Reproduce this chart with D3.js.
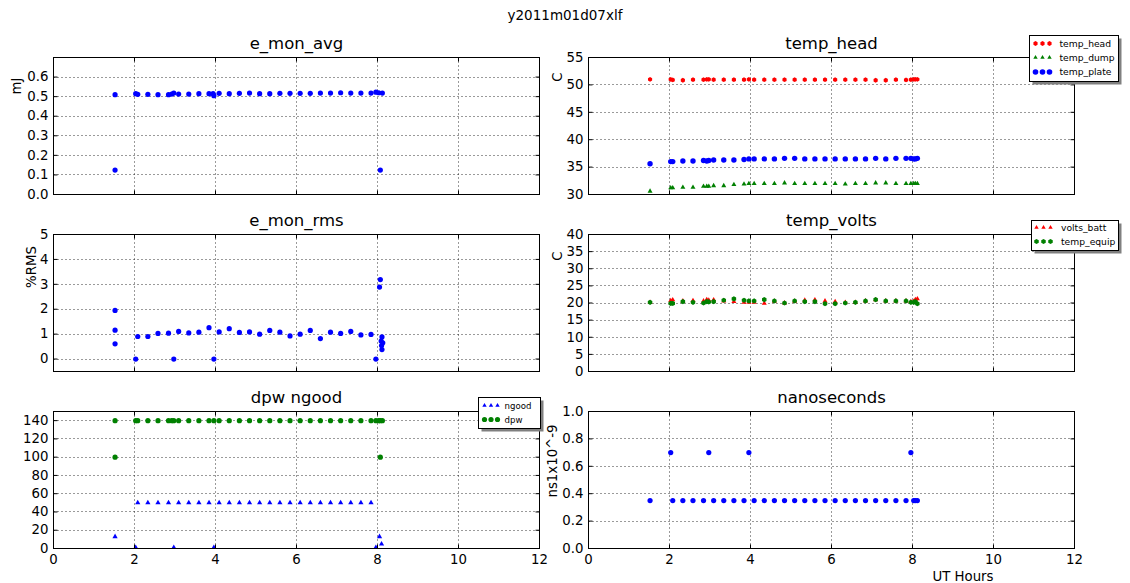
<!DOCTYPE html>
<html>
<head>
<meta charset="utf-8">
<script src="https://cdn.jsdelivr.net/npm/d3@7"></script>
<style>
  body { margin: 0; background: #fff; }
  svg { display: block; font-family: "DejaVu Sans", sans-serif; }
</style>
</head>
<body>
<svg id="chart" width="1130" height="583"></svg>
<script>
// ---------------- data ----------------
const runName = "y2011m01d07xlf";
const hourTicks = [0, 2, 4, 6, 8, 10, 12];

// scan times (UT hours) shared by the temperature, dpw and timing readings
const scanHours = [1.52, 2.03, 2.08, 2.33, 2.58, 2.84, 2.92, 2.97, 3.09, 3.34, 3.59, 3.84, 3.96,
  4.09, 4.34, 4.59, 4.84, 5.09, 5.34, 5.59, 5.84, 6.09, 6.34, 6.59, 6.84, 7.09, 7.34, 7.59, 7.84,
  7.96, 8.03, 8.07, 8.12];

// e_mon_avg (mJ)
const avgHours = [1.52, 1.52, 2.03, 2.08, 2.33, 2.58, 2.84, 2.92, 2.97, 3.09, 3.34, 3.59, 3.84, 3.94, 3.96,
  4.09, 4.34, 4.59, 4.84, 5.09, 5.34, 5.59, 5.84, 6.09, 6.34, 6.59, 6.84, 7.09, 7.34, 7.59, 7.84,
  7.96, 8.03, 8.07, 8.12];
const avgValues = [0.510, 0.125, 0.515, 0.512, 0.512, 0.510, 0.510, 0.513, 0.518, 0.513, 0.513, 0.515, 0.515, 0.515, 0.505,
  0.517, 0.515, 0.517, 0.518, 0.515, 0.515, 0.517, 0.517, 0.517, 0.517, 0.518, 0.518, 0.520, 0.518, 0.518, 0.518,
  0.523, 0.520, 0.125, 0.518];
const avgTicks = [0.0, 0.1, 0.2, 0.3, 0.4, 0.5, 0.6];

// e_mon_rms (%RMS)
const rmsHours = [1.52, 1.52, 1.52, 2.03, 2.08, 2.33, 2.58, 2.84, 2.97, 3.09, 3.34, 3.59, 3.84, 3.96,
  4.09, 4.34, 4.59, 4.84, 5.09, 5.34, 5.59, 5.84, 6.09, 6.34, 6.59, 6.84, 7.09, 7.34, 7.59, 7.84,
  7.96, 8.07, 8.05, 8.11, 8.09, 8.13, 8.10, 8.11];
const rmsValues = [1.95, 1.16, 0.61, 0.0, 0.905, 0.905, 1.03, 1.04, 0.0, 1.11, 1.05, 1.08, 1.26, 0.0,
  1.09, 1.22, 1.07, 1.09, 1.00, 1.15, 1.08, 0.93, 1.00, 1.15, 0.82, 1.08, 1.03, 1.11, 0.97, 0.99,
  0.0, 3.19, 2.89, 0.89, 0.72, 0.65, 0.54, 0.38];
const rmsTicks = [0, 1, 2, 3, 4, 5];

// temperatures (C), on scanHours
const tempHead = [51.0, 51.0, 50.9, 50.85, 50.95, 50.95, 51.0, 51.0, 50.95, 50.95, 50.95, 50.95, 51.0,
  50.95, 50.95, 50.95, 50.95, 50.95, 50.95, 50.95, 50.95, 50.95, 50.95, 50.95, 50.95, 50.85, 50.85, 50.95, 50.9,
  50.95, 51.0, 51.0, 51.0];
const tempDump = [30.6, 31.2, 31.2, 31.3, 31.3, 31.5, 31.5, 31.5, 31.6, 31.6, 31.8, 31.9, 32.0,
  32.0, 32.0, 32.0, 32.1, 32.0, 32.0, 32.0, 32.0, 32.0, 31.9, 32.0, 32.0, 32.1, 32.1, 32.0, 32.0,
  32.0, 32.0, 32.0, 32.0];
const tempPlate = [35.6, 36.0, 36.0, 36.1, 36.1, 36.2, 36.1, 36.2, 36.3, 36.3, 36.3, 36.4, 36.5,
  36.5, 36.5, 36.5, 36.6, 36.6, 36.5, 36.5, 36.5, 36.5, 36.5, 36.5, 36.5, 36.6, 36.5, 36.6, 36.6,
  36.6, 36.5, 36.5, 36.6];
const headTicks = [30, 35, 40, 45, 50, 55];

// battery volts and equipment temperature, on scanHours
const voltsBatt = [20.2, 20.7, 20.9, 20.6, 20.7, 20.6, 21.0, 20.8, 20.9, 20.6, 20.4, 20.2, 20.2,
  20.2, 19.9, 20.5, 20.0, 20.5, 20.8, 20.9, 20.6, 20.4, 20.2, 20.2, 20.6, 20.9, 20.6, 20.6, 20.6,
  20.4, 20.5, 21.0, 21.2];
const tempEquip = [20.2, 19.9, 19.9, 20.4, 20.2, 20.0, 20.4, 20.3, 20.4, 20.8, 21.2, 20.8, 20.6,
  20.6, 21.0, 20.6, 20.0, 20.6, 20.4, 20.4, 19.8, 19.8, 20.0, 20.2, 20.6, 21.0, 20.6, 20.6, 20.6,
  20.2, 20.2, 20.4, 19.8];
const voltsTicks = [0, 5, 10, 15, 20, 25, 30, 35, 40];

// dpw and ngood
const dpwHours = [1.52, 2.03, 2.08, 2.33, 2.58, 2.84, 2.92, 2.97, 3.09, 3.34, 3.59, 3.84, 3.96,
  4.09, 4.34, 4.59, 4.84, 5.09, 5.34, 5.59, 5.84, 6.09, 6.34, 6.59, 6.84, 7.09, 7.34, 7.59, 7.84,
  7.96, 8.03, 8.07, 8.12, 1.52, 8.07];
const dpwValues = [140, 140, 140, 140, 140, 140, 140, 140, 140, 140, 140, 140, 140,
  140, 140, 140, 140, 140, 140, 140, 140, 140, 140, 140, 140, 140, 140, 140, 140,
  140, 140, 140, 140, 100, 100];
const ngoodHours = [1.52, 2.03, 2.08, 2.33, 2.58, 2.84, 3.09, 3.34, 3.59, 3.84,
  4.09, 4.34, 4.59, 4.84, 5.09, 5.34, 5.59, 5.84, 6.09, 6.34, 6.59, 6.84, 7.09, 7.34, 7.59, 7.84,
  2.97, 3.96, 7.96, 8.05, 8.10];
const ngoodValues = [13, 1, 50, 50, 50, 50, 50, 50, 50, 50,
  50, 50, 50, 50, 50, 50, 50, 50, 50, 50, 50, 50, 50, 50, 50, 50,
  1, 1, 1, 13, 5];
const dpwTicks = [0, 20, 40, 60, 80, 100, 120, 140];

// timing jitter (ns), on scanHours (null = no reading)
const nanoseconds = [0.35, 0.70, 0.35, 0.35, 0.35, 0.35, null, 0.70, 0.35, 0.35, 0.35, 0.35, 0.70,
  0.35, 0.35, 0.35, 0.35, 0.35, 0.35, 0.35, 0.35, 0.35, 0.35, 0.35, 0.35, 0.35, 0.35, 0.35, 0.35,
  0.70, 0.35, 0.35, 0.35];
const nsTicks = [0.0, 0.2, 0.4, 0.6, 0.8, 1.0];

// ---------------- layout ----------------
const W = 1130, H = 583;
const colX = [[53.5, 539.5], [588.5, 1074.5]];
const rowY = [[57.5, 194.5], [234.5, 371.5], [411.5, 548.5]];
const BLUE = "#0000ff", GREEN = "#008000", RED = "#ff0000";
const tickFont = "13.3px", titleFont = "16.5px";

const svg = d3.select("#chart");
svg.append("rect").attr("width", W).attr("height", H).attr("fill", "#fff");

// marker shapes
function markerPath(shape, s) {
  if (shape === "tri") {
    const h = s * 0.866;
    return `M0,${-2 * h / 3}L${s / 2},${h / 3}L${-s / 2},${h / 3}Z`;
  }
  if (shape === "hex") {
    const pts = d3.range(6).map(k => {
      const a = k * Math.PI / 3;
      return [s * Math.sin(a), -s * Math.cos(a)];
    });
    return "M" + pts.map(p => p.join(",")).join("L") + "Z";
  }
  return d3.symbol(d3.symbolCircle, Math.PI * s * s)();
}
const snap = v => Math.round(v - 0.5) + 0.5;

function drawPanel(p) {
  const [x0, x1] = colX[p.col];
  const [yTop, yBot] = rowY[p.row];
  const x = d3.scaleLinear().domain([0, 12]).range([x0, x1]);
  const y = d3.scaleLinear().domain(p.yDomain).range([yBot, yTop]);
  const g = svg.append("g");

  // dotted grid
  const grid = g.append("g").attr("stroke", "#000").attr("stroke-width", 0.8)
    .attr("stroke-dasharray", "1,3");
  grid.selectAll("line.v").data(hourTicks.slice(1, -1)).join("line").attr("class", "v")
    .attr("x1", d => snap(x(d))).attr("x2", d => snap(x(d)))
    .attr("y1", yTop).attr("y2", yBot);
  grid.selectAll("line.h").data(p.yTicks.filter(t => t > p.yDomain[0] && t < p.yDomain[1])).join("line")
    .attr("class", "h")
    .attr("x1", x0).attr("x2", x1)
    .attr("y1", d => snap(y(d))).attr("y2", d => snap(y(d)));

  // series
  p.series.forEach(s => {
    const pts = s.xs.map((h, i) => [h, s.ys[i]]).filter(d => d[1] != null);
    g.append("g").attr("fill", s.color)
      .selectAll("path").data(pts).join("path")
      .attr("transform", d => `translate(${x(d[0])},${y(d[1])})`)
      .attr("d", markerPath(s.shape, s.size));
  });

  // inward ticks on all four sides
  const style = sel => {
    sel.select(".domain").remove();
    sel.selectAll("line").attr("stroke", "#000");
    sel.selectAll("text").attr("fill", "#000").attr("font-size", tickFont)
      .attr("font-family", "DejaVu Sans, sans-serif");
  };
  const yAxis = d3.axisLeft(y).tickValues(p.yTicks).tickFormat(p.fmt).tickSize(-4).tickPadding(5).offset(0);
  g.append("g").attr("transform", `translate(${x0},0)`).call(yAxis).call(style);
  g.append("g").attr("transform", `translate(${x1},0)`)
    .call(d3.axisRight(y).tickValues(p.yTicks).tickFormat("").tickSize(-4).offset(0)).call(style);
  g.append("g").attr("transform", `translate(0,${yBot})`)
    .call(d3.axisBottom(x).tickValues(hourTicks).tickFormat(p.showX ? d3.format("d") : "")
      .tickSize(-4).tickPadding(6).offset(0)).call(style);
  g.append("g").attr("transform", `translate(0,${yTop})`)
    .call(d3.axisTop(x).tickValues(hourTicks).tickFormat("").tickSize(-4).offset(0)).call(style);

  // frame
  g.append("rect").attr("x", x0).attr("y", yTop).attr("width", x1 - x0).attr("height", yBot - yTop)
    .attr("fill", "none").attr("stroke", "#000").attr("stroke-width", 1);

  // title
  g.append("text").attr("x", (x0 + x1) / 2).attr("y", yTop - 8.5).attr("text-anchor", "middle")
    .attr("font-size", titleFont).text(p.title);

  // axis label
  if (p.ylabel) {
    g.append("text").attr("transform", `translate(${p.ylabel.x},${p.ylabel.y}) rotate(-90)`)
      .attr("text-anchor", "middle").attr("dy", "0.35em").attr("font-size", tickFont).text(p.ylabel.text);
  }
  return { x, y };
}

function drawLegend(L) {
  const g = svg.append("g");
  g.append("rect").attr("x", L.x + 3).attr("y", L.y + 3).attr("width", L.w).attr("height", L.h)
    .attr("fill", "#808080");
  g.append("rect").attr("x", L.x).attr("y", L.y).attr("width", L.w).attr("height", L.h)
    .attr("fill", "#fff").attr("stroke", "#000").attr("stroke-width", 1);
  L.rows.forEach((r, i) => {
    const cy = L.y + L.rowY[i];
    L.markerX.forEach(mx => {
      g.append("path").attr("transform", `translate(${L.x + mx},${cy})`)
        .attr("d", markerPath(r.shape, r.size)).attr("fill", r.color);
    });
    g.append("text").attr("x", L.x + L.textX).attr("y", cy).attr("dy", "0.35em")
      .attr("font-size", L.font).text(r.label);
  });
}

// ---------------- panels ----------------
drawPanel({
  col: 0, row: 0, title: "e_mon_avg", yDomain: [0, 0.7], yTicks: avgTicks, fmt: d3.format(".1f"),
  ylabel: { text: "mJ", x: 16.5, y: 86 },
  series: [{ xs: avgHours, ys: avgValues, color: BLUE, shape: "circle", size: 2.6 }]
});

drawPanel({
  col: 1, row: 0, title: "temp_head", yDomain: [30, 55], yTicks: headTicks, fmt: d3.format("d"),
  ylabel: { text: "C", x: 557, y: 77 },
  series: [
    { xs: scanHours, ys: tempHead, color: RED, shape: "hex", size: 2.4 },
    { xs: scanHours, ys: tempDump, color: GREEN, shape: "tri", size: 5.0 },
    { xs: scanHours, ys: tempPlate, color: BLUE, shape: "circle", size: 2.7 }
  ]
});

drawPanel({
  col: 0, row: 1, title: "e_mon_rms", yDomain: [-0.5, 5], yTicks: rmsTicks, fmt: d3.format("d"),
  ylabel: { text: "%RMS", x: 31, y: 267 },
  series: [{ xs: rmsHours, ys: rmsValues, color: BLUE, shape: "circle", size: 2.6 }]
});

drawPanel({
  col: 1, row: 1, title: "temp_volts", yDomain: [0, 40], yTicks: voltsTicks, fmt: d3.format("d"),
  ylabel: { text: "C", x: 557, y: 256 },
  series: [
    { xs: scanHours, ys: voltsBatt, color: RED, shape: "tri", size: 5.0 },
    { xs: scanHours, ys: tempEquip, color: GREEN, shape: "hex", size: 2.6 }
  ]
});

drawPanel({
  col: 0, row: 2, title: "dpw ngood", yDomain: [0, 150], yTicks: dpwTicks, fmt: d3.format("d"),
  showX: true,
  series: [
    { xs: ngoodHours, ys: ngoodValues, color: BLUE, shape: "tri", size: 5.2 },
    { xs: dpwHours, ys: dpwValues, color: GREEN, shape: "circle", size: 2.6 }
  ]
});

drawPanel({
  col: 1, row: 2, title: "nanoseconds", yDomain: [0, 1], yTicks: nsTicks, fmt: d3.format(".1f"),
  showX: true,
  ylabel: { text: "ns1x10^-9", x: 552, y: 461 },
  series: [{ xs: scanHours, ys: nanoseconds, color: BLUE, shape: "circle", size: 2.6 }]
});

// x label and figure title
svg.append("text").attr("x", 963).attr("y", 576).attr("dy", "0.35em").attr("text-anchor", "middle")
  .attr("font-size", tickFont).text("UT Hours");
svg.append("text").attr("x", 565).attr("y", 20).attr("text-anchor", "middle")
  .attr("font-size", "13.5px").text(runName);

// ---------------- legends ----------------
drawLegend({
  x: 1029.5, y: 35.5, w: 89, h: 46, font: "9.2px", markerX: [6, 13, 20], textX: 30,
  rowY: [8, 22, 36.5],
  rows: [
    { label: "temp_head", color: RED, shape: "hex", size: 2.4 },
    { label: "temp_dump", color: GREEN, shape: "tri", size: 4.4 },
    { label: "temp_plate", color: BLUE, shape: "circle", size: 2.8 }
  ]
});
drawLegend({
  x: 1031.5, y: 220.5, w: 87, h: 30, font: "9.2px", markerX: [5, 12, 19], textX: 29.5,
  rowY: [7, 21],
  rows: [
    { label: "volts_batt", color: RED, shape: "tri", size: 4.4 },
    { label: "temp_equip", color: GREEN, shape: "hex", size: 2.6 }
  ]
});
drawLegend({
  x: 478.5, y: 397.5, w: 62, h: 31, font: "8.6px", markerX: [6, 12.5, 19], textX: 26,
  rowY: [8, 22],
  rows: [
    { label: "ngood", color: BLUE, shape: "tri", size: 4.4 },
    { label: "dpw", color: GREEN, shape: "circle", size: 2.6 }
  ]
});
</script>
</body>
</html>
